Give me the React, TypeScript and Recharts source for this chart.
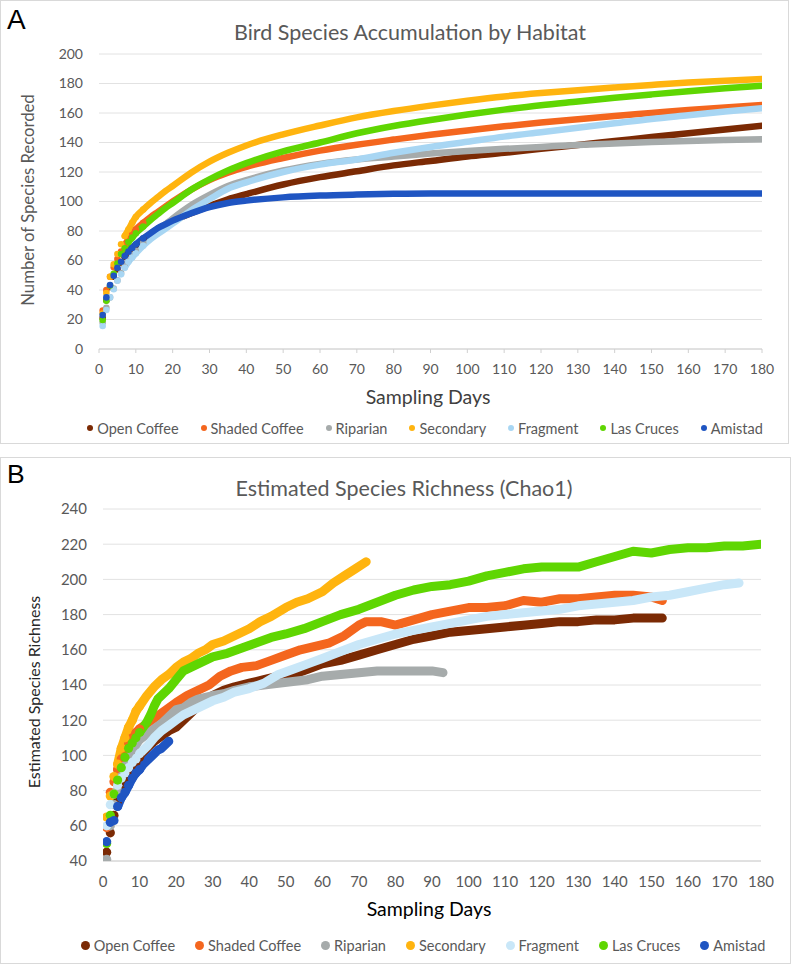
import React from 'react';
import { LineChart, Line, XAxis, YAxis, CartesianGrid } from 'recharts';

// ---------- categories / styles ----------
const SERIES_NAMES = ['Open Coffee', 'Shaded Coffee', 'Riparian', 'Secondary', 'Fragment', 'Las Cruces', 'Amistad'];
const COLORS_A = ['#7b2a04', '#f4661e', '#a6abab', '#ffb40f', '#a8d6f3', '#5fd602', '#1f55c2'];
const COLORS_B = ['#7b2a04', '#f4661e', '#a6abab', '#ffb40f', '#c9e7f8', '#5fd602', '#1f55c2'];

const X_TICKS = [0, 10, 20, 30, 40, 50, 60, 70, 80, 90, 100, 110, 120, 130, 140, 150, 160, 170, 180];
const Y_TICKS_A = [0, 20, 40, 60, 80, 100, 120, 140, 160, 180, 200];
const Y_TICKS_B = [40, 60, 80, 100, 120, 140, 160, 180, 200, 220, 240];

// ---------- Panel A: species accumulation ----------
const DAYS_A = [1, 2, 3, 4, 5, 6, 7, 8, 9, 10, 12, 14, 16, 18, 20, 25, 30, 35, 40, 50, 60, 70, 80, 90, 100, 110, 120, 130, 140, 150, 160, 170, 180];
const A_OPEN_COFFEE = [21, 33, 42, 49, 54, 58.5, 62.5, 65.5, 68, 70.5, 74.5, 78, 81.5, 84.3, 87, 92, 97, 101.5, 105, 111.5, 116.5, 120.5, 124.5, 127.5, 130.5, 133, 135.8, 138.3, 141, 143.7, 146.3, 148.8, 151.3];
const A_SHADED_COFFEE = [26, 40, 49, 55.5, 61, 66, 70.5, 74.5, 78, 81, 85.5, 89.5, 93, 96.5, 100, 108, 114.5, 119.5, 123.5, 129.5, 134.5, 138.5, 142, 145.3, 148.2, 151, 153.5, 155.8, 158, 160, 162, 163.8, 165.4];
const A_RIPARIAN = [18, 28, 35, 41, 46.5, 51.5, 56, 60, 63.5, 66.5, 72, 76.5, 80.5, 84.5, 88.5, 97.5, 104.5, 110.5, 114.5, 121, 125.5, 128.5, 130.5, 132.5, 134.2, 135.7, 137, 138.3, 139.4, 140.3, 141.1, 141.7, 142.2];
const A_SECONDARY = [24, 38, 49, 57.4, 64.4, 71, 76.6, 81, 85.5, 89.5, 94.5, 99, 103, 107, 110.5, 119.5, 127, 133, 138, 145.5, 151.5, 157, 161.3, 165, 168.3, 171.2, 173.5, 175.5, 177.3, 179, 180.6, 181.9, 183];
const A_FRAGMENT = [15.6, 26.4, 35, 40.5, 46.3, 50.6, 55.1, 59.2, 62, 64.8, 70, 74.5, 78, 81.5, 85, 94, 101.5, 108.6, 113, 120, 125, 128.5, 133, 137, 140.5, 144, 147, 150, 153, 156, 158.5, 161, 163.2];
const A_LAS_CRUCES = [19.7, 32.7, 43, 51, 58, 64.4, 68.2, 72.5, 75.5, 78.5, 83, 87.5, 91.5, 95.5, 99, 108, 115, 121, 126, 134, 140, 146.3, 151.2, 155.3, 159, 162.3, 165.3, 167.8, 170.3, 172.6, 174.8, 176.8, 178.5];
const A_AMISTAD = [23, 35, 43.4, 49.7, 55.1, 59.2, 63, 66, 68.5, 70.9, 75, 78.5, 82, 84.5, 87, 92, 96.2, 99, 100.6, 102.8, 104, 104.7, 105.2, 105.4, 105.5, 105.5, 105.5, 105.5, 105.5, 105.5, 105.5, 105.5, 105.5];

// ---------- Panel B: Chao1 estimates ----------
const B_OPEN_COFFEE_DAYS = [1, 2, 3, 4, 5, 6, 7, 8, 9, 10, 12, 14, 16, 18, 20, 22, 24, 26, 28, 30, 33, 36, 40, 44, 48, 52, 56, 60, 65, 70, 75, 80, 85, 90, 95, 100, 105, 110, 115, 120, 125, 130, 135, 140, 145, 150, 153];
const B_OPEN_COFFEE = [45, 56, 66, 74, 80, 85, 89, 93, 96, 99, 104, 108, 111, 114, 116, 120, 124, 128, 131, 134, 137, 139, 141, 143, 145, 146, 149, 152, 154, 157, 160, 163, 166, 168, 170, 171, 172, 173, 174, 175, 176, 176, 177, 177, 178, 178, 178];
const B_SHADED_COFFEE_DAYS = [1, 2, 3, 4, 5, 6, 7, 8, 9, 10, 12, 14, 16, 18, 20, 23, 26, 29, 32, 35, 38, 42, 46, 50, 54, 58, 62, 66, 70, 72, 74, 76, 78, 80, 85, 90, 95, 100, 105, 110, 115, 120, 125, 130, 135, 140, 145, 150, 153];
const B_SHADED_COFFEE = [59, 79, 85, 92, 98, 103, 107, 110, 113, 115, 118, 121, 124, 127, 130, 134, 137, 140, 145, 148, 150, 151, 154, 157, 160, 162, 164, 168, 174, 176, 176, 176, 175, 174, 177, 180, 182, 184, 184, 185, 188, 187, 189, 189, 190, 191, 191, 190, 188];
const B_RIPARIAN_DAYS = [1, 2, 3, 4, 5, 6, 7, 8, 9, 10, 12, 14, 16, 18, 20, 22, 24, 26, 28, 30, 33, 36, 40, 44, 48, 52, 56, 60, 65, 70, 75, 80, 85, 90, 93];
const B_RIPARIAN = [41, 60, 72, 80, 88, 94, 99, 103, 106, 109, 112, 115, 118, 122, 126, 127, 130, 132, 133, 134, 135, 137, 139, 140, 141, 142, 143, 145, 146, 147, 148, 148, 148, 148, 147];
const B_SECONDARY_DAYS = [1, 2, 3, 4, 5, 6, 7, 8, 9, 10, 12, 14, 16, 18, 20, 22, 24, 26, 28, 30, 33, 36, 40, 43, 46, 50, 53, 56, 60, 63, 66, 69, 72];
const B_SECONDARY = [65, 77, 88, 95, 104, 110, 116, 120, 125, 128, 134, 139, 143, 146, 150, 153, 155, 158, 160, 163, 165, 168, 172, 176, 179, 184, 187, 189, 193, 198, 202, 206, 210];
const B_FRAGMENT_DAYS = [1, 2, 3, 4, 5, 6, 7, 8, 9, 10, 12, 14, 16, 18, 20, 22, 24, 27, 30, 33, 36, 40, 44, 48, 52, 56, 60, 65, 70, 75, 80, 85, 90, 95, 100, 105, 110, 115, 120, 125, 130, 135, 140, 145, 150, 155, 160, 165, 170, 174];
const B_FRAGMENT = [60, 72, 78, 83, 87, 90, 93, 96, 98, 101, 105, 110, 114, 117, 120, 123, 125, 128, 131, 133, 136, 138, 141, 146, 149, 152, 155, 159, 163, 166, 169, 171, 173, 175, 177, 179, 180, 181, 182, 183, 185, 186, 187, 188, 190, 191, 193, 195, 197, 198];
const B_LAS_CRUCES_DAYS = [1, 2, 3, 4, 5, 6, 7, 8, 9, 10, 11, 12, 13, 14, 15, 16, 18, 20, 22, 24, 27, 30, 34, 38, 42, 46, 50, 55, 60, 65, 70, 75, 80, 85, 90, 95, 100, 105, 110, 115, 120, 125, 130, 135, 140, 145, 150, 155, 160, 165, 170, 175, 180];
const B_LAS_CRUCES = [50, 66, 78, 86, 93, 99, 104, 107, 110, 113, 116, 119, 123, 128, 132, 134, 138, 143, 148, 150, 153, 156, 158, 161, 164, 167, 169, 172, 176, 180, 183, 187, 191, 194, 196, 197, 199, 202, 204, 206, 207, 207, 207, 210, 213, 216, 215, 217, 218, 218, 219, 219, 220];
const B_AMISTAD_DAYS = [1, 2, 3, 4, 5, 6, 7, 8, 9, 10, 11, 12, 13, 14, 15, 16, 17, 18];
const B_AMISTAD = [51, 62, 63, 71, 76, 79, 83, 87, 90, 92, 95, 97, 99, 101, 103, 104, 106, 108];

type Pt = { day: number; v: number };
const toPts = (days: number[], vals: number[]): Pt[] => days.map((d, i) => ({ day: d, v: vals[i] }));

const A_DATA: Pt[][] = [A_OPEN_COFFEE, A_SHADED_COFFEE, A_RIPARIAN, A_SECONDARY, A_FRAGMENT, A_LAS_CRUCES, A_AMISTAD].map((v) => toPts(DAYS_A, v));
const B_DATA: Pt[][] = [
  toPts(B_OPEN_COFFEE_DAYS, B_OPEN_COFFEE),
  toPts(B_SHADED_COFFEE_DAYS, B_SHADED_COFFEE),
  toPts(B_RIPARIAN_DAYS, B_RIPARIAN),
  toPts(B_SECONDARY_DAYS, B_SECONDARY),
  toPts(B_FRAGMENT_DAYS, B_FRAGMENT),
  toPts(B_LAS_CRUCES_DAYS, B_LAS_CRUCES),
  toPts(B_AMISTAD_DAYS, B_AMISTAD),
];

const FONT = 'Lato, "Open Sans", sans-serif';

function Legend({ colors, cx, cy, dot, fontSize, gap, color }: { colors: string[]; cx: number; cy: number; dot: number; fontSize: number; gap: number; color: string }) {
  return (
    <div style={{ position: 'absolute', left: cx - 420, width: 840, top: cy - 12, height: 24, display: 'flex', justifyContent: 'center', alignItems: 'center', gap, fontFamily: FONT, fontSize, color, whiteSpace: 'nowrap' }}>
      {SERIES_NAMES.map((n, i) => (
        <div key={n} style={{ display: 'flex', alignItems: 'center' }}>
          <span style={{ display: 'inline-block', width: dot, height: dot, borderRadius: '50%', background: colors[i], marginRight: 4 }} />
          <span>{n}</span>
        </div>
      ))}
    </div>
  );
}

function seriesA() {
  const out: React.ReactNode[] = [];
  A_DATA.forEach((pts, i) => {
    out.push(
      <Line key={'ad' + i} data={pts.filter((p) => p.day <= 12)} dataKey="v" type="monotone" stroke="none" strokeWidth={0}
        dot={{ r: 3.3, fill: COLORS_A[i], stroke: COLORS_A[i], strokeWidth: 0 }} activeDot={false} isAnimationActive={false} />
    );
    out.push(
      <Line key={'al' + i} data={pts.filter((p) => p.day >= 7)} dataKey="v" type="monotone" stroke={COLORS_A[i]} strokeWidth={6.5}
        strokeLinecap="round" dot={false} activeDot={false} isAnimationActive={false} />
    );
  });
  return out;
}

function seriesB() {
  const out: React.ReactNode[] = [];
  B_DATA.forEach((pts, i) => {
    out.push(
      <Line key={'bd' + i} data={pts.filter((p) => p.day <= 10)} dataKey="v" type="linear" stroke="none" strokeWidth={0}
        dot={{ r: 4.6, fill: COLORS_B[i], stroke: COLORS_B[i], strokeWidth: 0 }} activeDot={false} isAnimationActive={false} />
    );
    out.push(
      <Line key={'bl' + i} data={pts.filter((p) => p.day >= 4)} dataKey="v" type="linear" stroke={COLORS_B[i]} strokeWidth={9}
        strokeLinecap="round" strokeLinejoin="round" dot={false} activeDot={false} isAnimationActive={false} />
    );
  });
  return out;
}

export default function App() {
  const tickA = { fill: '#595959', fontSize: 14, fontFamily: FONT };
  const tickB = { fill: '#595959', fontSize: 15, fontFamily: FONT };
  return (
    <div style={{ position: 'absolute', left: 0, top: 0, width: 800, height: 965, background: '#fff', overflow: 'hidden' }}>
      {/* Panel A */}
      <div style={{ position: 'absolute', left: 0, top: 0, width: 789, height: 444, border: '1px solid #d9d9d9', boxSizing: 'border-box' }} />
      <div style={{ position: 'absolute', left: 0, top: 0 }}>
        <LineChart width={789} height={444} margin={{ top: 54, right: 27, bottom: 65, left: 39 }}>
          <CartesianGrid horizontal vertical={false} stroke="#e2e2e2" />
          <XAxis type="number" dataKey="day" domain={[0, 180]} ticks={X_TICKS} allowDataOverflow interval={0}
            height={30} tickSize={4} tickMargin={11} stroke="#d0d0d0" tick={tickA} />
          <YAxis type="number" domain={[0, 200]} ticks={Y_TICKS_A} allowDataOverflow interval={0} width={60}
            axisLine={false} tickLine={false} tickSize={0} tickMargin={16} tick={tickA} />
          {seriesA()}
        </LineChart>
      </div>

      {/* Panel B */}
      <div style={{ position: 'absolute', left: 0, top: 457, width: 791, height: 507, border: '1px solid #d9d9d9', boxSizing: 'border-box' }} />
      <div style={{ position: 'absolute', left: 0, top: 457 }}>
        <LineChart width={791} height={507} margin={{ top: 52, right: 30, bottom: 73, left: 43 }}>
          <CartesianGrid horizontal vertical={false} stroke="#e2e2e2" />
          <XAxis type="number" dataKey="day" domain={[0, 180]} ticks={X_TICKS} allowDataOverflow interval={0}
            height={30} tickSize={0} tickLine={false} tickMargin={15} stroke="#d0d0d0" tick={tickB} />
          <YAxis type="number" domain={[40, 240]} ticks={Y_TICKS_B} allowDataOverflow interval={0} width={60}
            axisLine={false} tickLine={false} tickSize={0} tickMargin={16} tick={tickB} />
          {seriesB()}
        </LineChart>
      </div>

      {/* Text annotations */}
      <svg width={800} height={965} style={{ position: 'absolute', left: 0, top: 0, pointerEvents: 'none' }}>
        <text x={7} y={29} fontFamily='"Liberation Sans", Arial, sans-serif' fontSize={28} fill="#000">A</text>
        <text x={410} y={32} textAnchor="middle" dominantBaseline="central" fontFamily={FONT} fontSize={21.5} fill="#595959">Bird Species Accumulation by Habitat</text>
        <text x={28} y={200} textAnchor="middle" dominantBaseline="central" transform="rotate(-90 28 200)" fontFamily={FONT} fontSize={16.7} fill="#595959">Number of Species Recorded</text>
        <text x={428} y={396} textAnchor="middle" dominantBaseline="central" fontFamily={FONT} fontSize={19.5} fill="#404040">Sampling Days</text>

        <text x={7} y={483} fontFamily='"Liberation Sans", Arial, sans-serif' fontSize={26.5} fill="#000">B</text>
        <text x={404} y={488} textAnchor="middle" dominantBaseline="central" fontFamily={FONT} fontSize={21.5} fill="#595959">Estimated Species Richness (Chao1)</text>
        <text x={33} y={692} textAnchor="middle" dominantBaseline="central" transform="rotate(-90 33 692)" fontFamily={FONT} fontSize={16} fill="#262626">Estimated Species Richness</text>
        <text x={429} y={908} textAnchor="middle" dominantBaseline="central" fontFamily={FONT} fontSize={19.5} fill="#000">Sampling Days</text>
      </svg>

      <Legend colors={COLORS_A} cx={425} cy={428} dot={6} fontSize={14.5} gap={22} color="#595959" />
      <Legend colors={COLORS_B} cx={423} cy={945} dot={9} fontSize={14.5} gap={20} color="#595959" />
    </div>
  );
}
